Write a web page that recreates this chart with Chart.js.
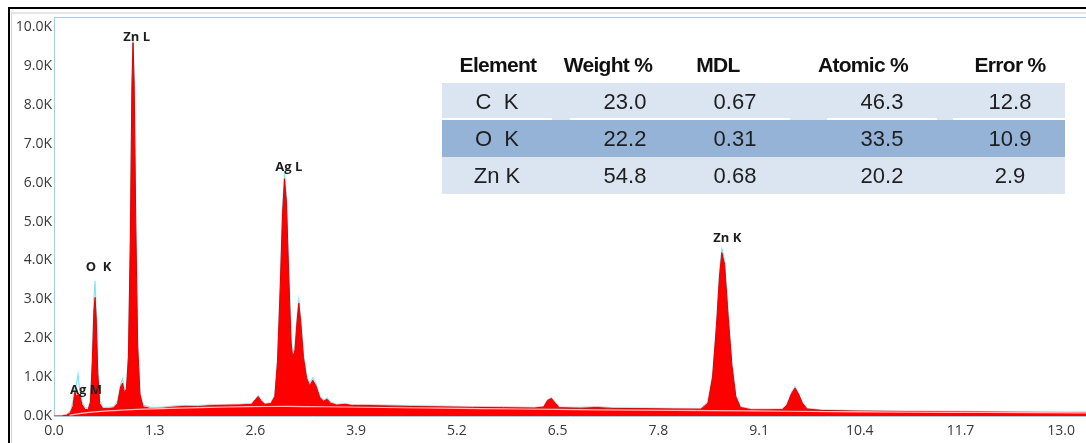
<!DOCTYPE html>
<html>
<head>
<meta charset="utf-8">
<title>EDS spectrum</title>
<script src="https://cdn.jsdelivr.net/npm/chart.js@4/dist/chart.umd.min.js"></script>
<style>
  html, body { margin: 0; padding: 0; background: #fff; overflow: hidden; }
  #wrap { position: relative; width: 1086px; height: 443px; }
  #spectrum { position: absolute; left: 0; top: 0; }
  .frame-outer { position: absolute; left: 8px; top: 7px; width: 1200px; height: 500px;
    border-left: 2px solid #000; border-top: 2px solid #000; }
  .frame-inner { position: absolute; left: 11px; top: 12px; width: 1200px; height: 500px;
    border-left: 1px solid #d4d4d4; border-top: 2px solid #e6e6e6; }
  .quant { position: absolute; left: 0; top: 0; width: 1086px; height: 443px; pointer-events: none;
    font-family: "Liberation Sans", Arial, sans-serif; color: #1e1e1e; }
  .quant .row { position: absolute; left: 442px; width: 623px; height: 37px; }
  .quant .cell { position: absolute; transform: translate(-50%, -50%); white-space: pre; }
  .quant .head { font-weight: bold; font-size: 21px; letter-spacing: -0.7px; color: #111; }
  .quant .val { font-size: 22px; }
  .quant .sep { position: absolute; height: 2px; background: #fff; }
</style>
</head>
<body>
<div id="wrap">
  <canvas id="spectrum" width="1086" height="443"></canvas>
  <div class="frame-outer"></div>
  <div class="frame-inner"></div>
  <div class="quant" id="quant"></div>
</div>
<script>
// ---- spectrum: energy (keV) and counts ----
const energyKeV = [
  0.00, 0.10, 0.16, 0.21, 0.245, 0.27, 0.29, 0.31, 0.33, 0.36,
  0.40, 0.44, 0.47, 0.495, 0.515, 0.53, 0.545, 0.565, 0.59, 0.63,
  0.70, 0.77, 0.82, 0.86, 0.885, 0.91, 0.935, 0.96, 0.985, 1.005,
  1.02, 1.035, 1.055, 1.08, 1.11, 1.15, 1.25, 1.40, 1.55, 1.70,
  1.85, 2.00, 2.20, 2.40, 2.55, 2.60, 2.635, 2.67, 2.72, 2.80,
  2.85, 2.885, 2.92, 2.95, 2.975, 3.00, 3.03, 3.06, 3.08, 3.11,
  3.14, 3.16, 3.185, 3.22, 3.26, 3.30, 3.34, 3.38, 3.43, 3.48,
  3.525, 3.57, 3.65, 3.76, 3.85, 4.00, 4.30, 4.60, 5.00, 5.40,
  5.80, 6.20, 6.32, 6.37, 6.42, 6.47, 6.52, 6.80, 7.00, 7.20,
  7.60, 8.00, 8.35, 8.44, 8.50, 8.55, 8.59, 8.62, 8.655, 8.70,
  8.75, 8.80, 8.86, 9.00, 9.20, 9.40, 9.46, 9.52, 9.565, 9.61,
  9.66, 9.72, 9.90, 10.40, 11.00, 11.70, 12.40, 13.00, 13.32
];
// filled spectrum (red)
const countsFit = [
  0, 0, 20, 80, 250, 630, 500, 560, 550, 300,
  170, 160, 350, 1400, 2700, 3050, 2500, 1100, 320, 190,
  190, 210, 320, 750, 850, 600, 700, 1500, 4500, 8400,
  9600, 8500, 5000, 1800, 550, 240, 190, 200, 230, 250,
  240, 265, 275, 285, 300, 420, 500, 400, 300, 320,
  500, 1400, 3300, 5200, 6100, 5500, 3600, 1900, 1500, 1700,
  2500, 2900, 2400, 1500, 980, 780, 920, 780, 480, 380,
  430, 330, 280, 300, 270, 270, 260, 245, 235, 220,
  215, 205, 230, 400, 450, 330, 215, 200, 220, 195,
  190, 180, 175, 330, 1000, 2300, 3600, 4200, 3900, 2600,
  1300, 500, 220, 160, 160, 165, 280, 580, 720, 560,
  330, 180, 145, 125, 115, 105, 95, 90, 88
];
// measured outline (cyan)
const countsRaw = [
  0, 10, 40, 120, 380, 700, 820, 1080, 700, 380,
  220, 200, 420, 1600, 3000, 3480, 2700, 1300, 400, 230,
  220, 240, 380, 820, 950, 680, 760, 1600, 4700, 8600,
  9750, 8700, 5200, 1900, 600, 280, 220, 230, 260, 270,
  265, 285, 295, 305, 320, 440, 520, 420, 320, 340,
  540, 1500, 3450, 5400, 6250, 5650, 3750, 2000, 1600, 1800,
  2600, 2980, 2500, 1600, 1050, 840, 980, 840, 520, 410,
  460, 360, 300, 320, 290, 290, 280, 265, 255, 240,
  235, 225, 250, 420, 470, 350, 235, 220, 240, 215,
  205, 195, 190, 360, 1050, 2400, 3750, 4300, 4000, 2700,
  1350, 540, 240, 180, 175, 180, 300, 610, 750, 590,
  350, 195, 160, 140, 128, 118, 108, 102, 100
];
// continuum (background model)
const bgKeV    = [0.20, 0.40, 0.70, 1.00, 1.50, 2.00, 2.50, 3.00, 3.50, 4.00, 5.00, 6.00, 7.00, 8.00, 9.00, 10.00, 11.00, 12.00, 13.32];
const bgCounts = [20, 80, 130, 165, 195, 220, 240, 245, 238, 225, 200, 180, 160, 145, 130, 115, 100, 90, 80];

// ---- axes ----
const xTickValues = [0.0, 1.3, 2.6, 3.9, 5.2, 6.5, 7.8, 9.1, 10.4, 11.7, 13.0];
const yTickValues = [0, 1000, 2000, 3000, 4000, 5000, 6000, 7000, 8000, 9000, 10000];
const xMax = 13.32;
const yMax = 10260;

// ---- peak identification labels ----
const peakNames  = ["Zn L", "O  K", "Ag M", "Ag L", "Zn K"];
const peakKeV    = [1.066, 0.575, 0.413, 3.03, 8.69];
const peakCounts = [9740, 3830, 660, 6400, 4570];

// ---- quantification table ----
const tableHeaders = ["Element", "Weight %", "MDL", "Atomic %", "Error %"];
const elements   = ["C  K", "O  K", "Zn K"];
const weightPct  = ["23.0", "22.2", "54.8"];
const mdl        = ["0.67", "0.31", "0.68"];
const atomicPct  = ["46.3", "33.5", "20.2"];
const errorPct   = ["12.8", "10.9", "2.9"];

const toXY = (xs, ys) => xs.map((x, i) => ({ x: x, y: ys[i] }));

const plotFrame = {
  id: 'plotFrame',
  afterDraw(chart) {
    const { ctx, chartArea: a } = chart;
    ctx.save();
    ctx.strokeStyle = '#a9c9e8';
    ctx.lineWidth = 1;
    ctx.beginPath();
    ctx.moveTo(a.left, a.top + 0.5);
    ctx.lineTo(a.right, a.top + 0.5);
    ctx.stroke();
    ctx.restore();
  }
};

const peakLabels = {
  id: 'peakLabels',
  afterDatasetsDraw(chart) {
    const { ctx, scales } = chart;
    ctx.save();
    ctx.font = "bold 13px 'Open Sans', 'DejaVu Sans', sans-serif";
    ctx.fillStyle = '#1e1e1e';
    ctx.textAlign = 'center';
    ctx.textBaseline = 'middle';
    peakNames.forEach((name, i) => {
      ctx.fillText(name, scales.x.getPixelForValue(peakKeV[i]), scales.y.getPixelForValue(peakCounts[i]));
    });
    ctx.restore();
  }
};

new Chart(document.getElementById('spectrum'), {
  type: 'line',
  data: {
    datasets: [
      {
        label: 'Spectrum',
        data: toXY(energyKeV, countsFit),
        borderColor: '#e00000',
        borderWidth: 1,
        backgroundColor: '#ff0000',
        fill: 'origin',
        pointRadius: 0,
        tension: 0,
        order: 2
      },
      {
        label: 'Background',
        data: toXY(bgKeV, bgCounts),
        borderColor: 'rgba(255,215,215,0.9)',
        borderWidth: 1.2,
        fill: false,
        pointRadius: 0,
        tension: 0.3,
        order: 1
      },
      {
        label: 'Counts',
        data: toXY(energyKeV, countsRaw),
        borderColor: '#86e6ef',
        borderWidth: 1.2,
        fill: false,
        pointRadius: 0,
        tension: 0,
        order: 3
      }
    ]
  },
  options: {
    responsive: false,
    animation: false,
    devicePixelRatio: 1,
    layout: { padding: { left: 0, right: 0, top: 17, bottom: 0 } },
    plugins: { legend: { display: false }, tooltip: { enabled: false } },
    scales: {
      x: {
        type: 'linear',
        min: 0,
        max: xMax,
        grid: { display: false, drawTicks: false },
        border: { display: true, color: '#a9c9e8', width: 1 },
        afterBuildTicks: (s) => { s.ticks = xTickValues.map(v => ({ value: v })); },
        afterFit: (s) => { s.height = 27; },
        ticks: {
          autoSkip: false,
          maxRotation: 0,
          padding: 7,
          color: '#383838',
          font: { family: "'Open Sans', 'DejaVu Sans', sans-serif", size: 14 },
          callback: (v) => Number(v).toFixed(1)
        }
      },
      y: {
        min: 0,
        max: yMax,
        grid: { display: false, drawTicks: false },
        border: { display: true, color: '#a9c9e8', width: 1 },
        afterBuildTicks: (s) => { s.ticks = yTickValues.map(v => ({ value: v })); },
        afterFit: (s) => { s.width = 54; },
        ticks: {
          autoSkip: false,
          padding: 2,
          color: '#383838',
          font: { family: "'Open Sans', 'DejaVu Sans', sans-serif", size: 14 },
          callback: (v) => (v / 1000).toFixed(1) + 'K'
        }
      }
    }
  },
  plugins: [plotFrame, peakLabels]
});

// ---- quantification table overlay ----
(function buildTable() {
  const root = document.getElementById('quant');
  const colX = [497, 625, 735, 882, 1010];
  const headX = [498, 608, 718, 863, 1010];
  const rowTop = [83, 120, 157];
  const rowColor = ['#dbe5f1', '#95b3d7', '#dbe5f1'];
  const columns = [elements, weightPct, mdl, atomicPct, errorPct];

  rowTop.forEach((top, r) => {
    const bg = document.createElement('div');
    bg.className = 'row';
    bg.style.top = top + 'px';
    bg.style.background = rowColor[r];
    root.appendChild(bg);
  });
  // light cell borders above the middle row
  [[442, 552], [570, 790], [827, 937], [953, 1065]].forEach(([a, b]) => {
    const s = document.createElement('div');
    s.className = 'sep';
    s.style.left = a + 'px';
    s.style.width = (b - a) + 'px';
    s.style.top = '118px';
    root.appendChild(s);
  });
  tableHeaders.forEach((h, c) => {
    const d = document.createElement('div');
    d.className = 'cell head';
    d.textContent = h;
    d.style.left = headX[c] + 'px';
    d.style.top = '65px';
    root.appendChild(d);
  });
  columns.forEach((col, c) => {
    col.forEach((txt, r) => {
      const d = document.createElement('div');
      d.className = 'cell val';
      d.textContent = txt;
      d.style.left = colX[c] + 'px';
      d.style.top = (rowTop[r] + 19) + 'px';
      root.appendChild(d);
    });
  });
})();
</script>
</body>
</html>
